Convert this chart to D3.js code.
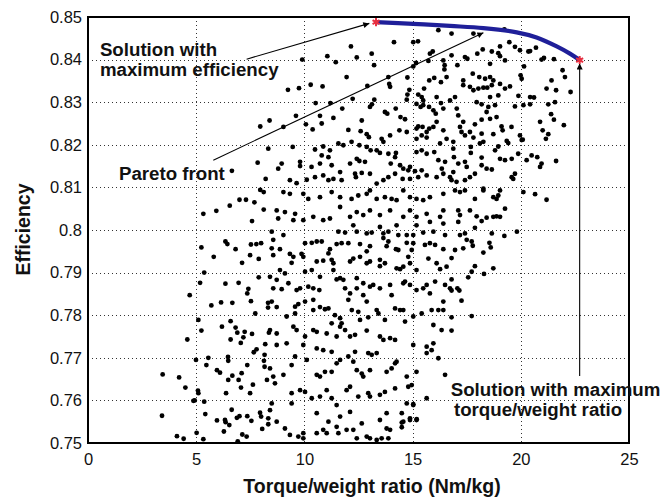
<!DOCTYPE html>
<html>
<head>
<meta charset="utf-8">
<script src="https://cdn.jsdelivr.net/npm/d3@7/dist/d3.min.js"></script>
<style>
  html, body { margin: 0; padding: 0; background: #fff; }
  svg { display: block; }
  text { font-family: "Liberation Sans", Arial, Helvetica, sans-serif; }
</style>
</head>
<body>
<script>
// ---------------- data ----------------
const xTicks = [0, 5, 10, 15, 20, 25];
const xTickLabels = ["0", "5", "10", "15", "20", "25"];
const yTicks = [0.75, 0.76, 0.77, 0.78, 0.79, 0.80, 0.81, 0.82, 0.83, 0.84, 0.85];
const yTickLabels = ["0.75", "0.76", "0.77", "0.78", "0.79", "0.8", "0.81", "0.82", "0.83", "0.84", "0.85"];
const xLabel = "Torque/weight ratio (Nm/kg)";
const yLabel = "Efficiency";

// Pareto front (torque/weight, efficiency)
const paretoFront = [[13.31,.8488],[15.03,.8484],[16.73,.8479],[18.27,.8474],[19.81,.8464],[20.73,.8452],[21.66,.8431],[22.27,.8414],[22.72,.8399]];
const extremeSolutions = [[13.31,.8488],[22.72,.8399]];

// Sampled designs (torque/weight, efficiency)
const samplePoints = [
[7.96,.8243],[8.39,.8257],[8.33,.8191],[7.84,.8158],[6.65,.8139],[8.21,.8120],[7.96,.8094],[8.12,.8089],[7.0,.8071],[7.3,.8071],[7.69,.8065],[6.55,.8057],[5.93,.8045],[5.33,.8038],[8.12,.8048],[7.58,.8021],
[5.24,.7959],[5.81,.7937],[6.35,.7973],[6.44,.7967],[6.82,.7955],[7.12,.7923],[7.53,.7966],[7.78,.7967],[8.0,.7969],[7.49,.7941],[7.89,.7932],[5.37,.7900],[5.18,.7876],[6.35,.7874],[6.96,.7876],[7.89,.7889],[7.41,.7862],[7.36,.7851],[4.70,.7847],[7.53,.7833],[8.32,.7829],[8.32,.7818],[5.70,.7823],[6.15,.7830],[6.67,.7829],[7.73,.7804],[5.10,.7789],[5.24,.7764],[4.59,.7743],[6.19,.7773],[6.59,.7786],[6.82,.7771],[6.90,.7759],[7.24,.7761],[7.18,.7748],[7.58,.7756],[6.59,.7743],[7.06,.7735],[8.19,.7732],[8.36,.7759],[7.79,.7720],[7.66,.7713],[8.16,.7707],[8.13,.7693],[8.16,.7679],[5.56,.7700],[5.47,.7683],[4.99,.7695],[6.47,.7702],[6.48,.7693],[7.36,.7683],[5.96,.7671],[6.10,.7665],[6.67,.7658],[7.10,.7664],[6.48,.7648],[6.96,.7648],[8.27,.7648],[3.45,.7661],[4.21,.7654],[4.50,.7630],[5.08,.7623],[5.10,.7617],[6.38,.7617],[7.07,.7630],[7.62,.7637],[7.49,.7617],[4.87,.7599],[4.93,.7600],[5.37,.7597],[6.64,.7578],[5.42,.7568],[3.42,.7564],[5.96,.7553],[6.36,.7549],[6.33,.7554],[6.53,.7542],[6.88,.7559],[7.0,.7563],[7.36,.7563],[7.55,.7552],[7.95,.7571],[8.0,.7562],[8.33,.7558],[8.33,.7544],[8.05,.7533],[6.28,.7527],[4.11,.7516],[4.42,.7510],[5.02,.7524],[5.33,.7509],[7.13,.7520],[7.33,.7515],[6.92,.7504],
[14.14,.8441],[15.03,.8441],[15.25,.8443],[16.19,.8469],[12.15,.8431],[13.11,.8414],[13.22,.8387],[11.06,.8408],[11.45,.8394],[12.42,.8405],[9.90,.8400],[11.95,.8359],[10.29,.8341],[9.75,.8333],[9.24,.8329],[10.84,.8337],[12.91,.8338],[13.88,.8359],[13.92,.8343],[13.96,.8336],[14.76,.8358],[15.03,.8384],[15.16,.8392],[15.73,.8397],[15.80,.8414],[15.93,.8419],[16.42,.8398],[16.48,.8387],[16.47,.8377],[15.77,.8351],[16.0,.8357],[16.31,.8347],[16.57,.8359],[14.85,.8329],[14.76,.8318],[15.53,.8332],[15.26,.8318],[15.42,.8312],[15.49,.8304],[16.11,.8312],[16.31,.8298],[10.52,.8298],[11.20,.8298],[11.75,.8285],[12.23,.8308],[13.12,.8295],[13.03,.8289],[13.23,.8306],[13.72,.8277],[13.83,.8273],[14.22,.8285],[14.73,.8306],[15.18,.8296],[15.37,.8289],[15.49,.8293],[15.76,.8289],[15.96,.8281],[16.07,.8273],[16.42,.8285],[9.61,.8268],[10.72,.8268],[11.34,.8263],[10.80,.8250],[10.07,.8248],[10.38,.8236],[9.03,.8242],[12.03,.8235],[12.60,.8232],[12.88,.8225],[12.98,.8218],[12.65,.8257],[13.57,.8214],[13.65,.8207],[13.96,.8222],[14.44,.8265],[14.65,.8260],[14.39,.8234],[14.73,.8230],[15.18,.8238],[15.26,.8243],[15.46,.8242],[15.65,.8230],[15.77,.8238],[15.96,.8242],[15.42,.8222],[15.18,.8214],[15.65,.8217],[16.11,.8254],[16.42,.8234],[16.57,.8214],[16.27,.8203],[9.46,.8195],[8.95,.8156],[8.79,.8144],[9.80,.8160],[9.80,.8150],[10.49,.8189],[10.87,.8196],[11.18,.8187],[11.57,.8203],[11.80,.8199],[12.18,.8207],[12.54,.8199],[12.88,.8195],[13.06,.8187],[13.34,.8187],[13.49,.8181],[10.80,.8175],[11.11,.8171],[10.33,.8148],[10.72,.8156],[11.26,.8152],[11.65,.8136],[12.11,.8156],[12.42,.8167],[12.54,.8162],[12.80,.8160],[13.88,.8179],[14.23,.8181],[14.19,.8171],[13.99,.8156],[14.42,.8152],[14.57,.8144],[14.80,.8140],[14.88,.8148],[15.11,.8138],[15.18,.8183],[15.42,.8187],[15.65,.8179],[16.0,.8183],[16.19,.8164],[16.50,.8160],[16.35,.8144],[15.42,.8140],[15.65,.8128],[9.33,.8117],[9.64,.8110],[10.11,.8118],[10.49,.8124],[10.87,.8128],[11.11,.8117],[11.34,.8120],[11.72,.8117],[12.34,.8132],[12.65,.8134],[12.38,.8124],[13.03,.8132],[13.34,.8109],[13.65,.8117],[13.88,.8124],[14.19,.8132],[14.54,.8120],[14.88,.8120],[15.26,.8124],[16.11,.8124],[16.42,.8132],[9.03,.8089],[9.33,.8085],[9.95,.8085],[10.18,.8073],[10.72,.8077],[11.26,.8089],[11.65,.8077],[12.18,.8073],[12.49,.8081],[12.88,.8085],[13.03,.8093],[13.34,.8073],[13.72,.8077],[14.03,.8073],[14.26,.8070],[14.57,.8093],[14.88,.8077],[15.18,.8073],[15.49,.8070],[15.80,.8077],[16.42,.8085],[8.72,.8046],[9.10,.8042],[9.57,.8038],[9.95,.8023],[10.41,.8031],[10.87,.8023],[11.18,.8027],[11.65,.8054],[12.11,.8031],[12.42,.8042],[12.72,.8035],[13.03,.8046],[13.49,.8035],[13.96,.8046],[14.57,.8031],[14.88,.8046],[15.18,.8031],[15.65,.8038],[16.27,.8031],[16.42,.8046],[9.49,.8023],[8.79,.8027],[12.26,.8011],[13.49,.8007],[14.26,.8011],[15.18,.8011],[15.80,.8019],[16.42,.8015],
[19.24,.8471],[17.81,.8461],[16.80,.8461],[19.47,.8441],[19.73,.8430],[19.96,.8422],[20.35,.8419],[20.43,.8420],[20.70,.8428],[19.04,.8431],[18.96,.8415],[18.66,.8419],[18.24,.8424],[17.99,.8414],[17.42,.8406],[17.53,.8402],[17.07,.8387],[16.80,.8410],[18.58,.8390],[19.27,.8398],[19.04,.8408],[20.15,.8384],[20.96,.8400],[21.07,.8404],[21.53,.8401],[21.93,.8375],[22.04,.8359],[17.78,.8367],[18.08,.8359],[18.35,.8355],[18.58,.8359],[18.73,.8351],[17.34,.8351],[17.34,.8340],[17.65,.8336],[17.81,.8328],[18.04,.8332],[18.27,.8334],[18.45,.8334],[18.66,.8340],[19.04,.8343],[19.27,.8332],[19.50,.8337],[20.04,.8355],[19.99,.8363],[21.42,.8351],[21.19,.8332],[21.63,.8328],[22.30,.8324],[20.43,.8312],[20.61,.8311],[19.89,.8315],[18.96,.8316],[18.58,.8312],[16.96,.8312],[16.73,.8304],[17.96,.8300],[18.19,.8295],[18.50,.8289],[18.81,.8293],[19.73,.8290],[20.12,.8293],[20.43,.8295],[21.27,.8295],[21.58,.8300],[21.40,.8272],[21.53,.8259],[17.04,.8285],[17.11,.8269],[18.42,.8277],[18.88,.8265],[18.58,.8261],[17.34,.8254],[17.19,.8242],[17.88,.8248],[18.19,.8259],[19.11,.8243],[19.16,.8234],[19.57,.8242],[19.96,.8222],[18.73,.8225],[20.89,.8254],[21.01,.8234],[21.27,.8225],[21.16,.8214],[21.99,.8246],[17.26,.8230],[17.42,.8222],[17.65,.8230],[17.81,.8217],[18.19,.8226],[18.27,.8207],[18.11,.8203],[19.35,.8209],[19.42,.8204],[20.04,.8211],[20.09,.8212],[16.88,.8207],[16.88,.8191],[17.69,.8195],[17.69,.8181],[18.81,.8187],[18.96,.8196],[16.91,.8171],[17.42,.8160],[17.50,.8148],[18.19,.8170],[18.19,.8152],[18.42,.8144],[18.66,.8142],[19.04,.8167],[19.27,.8164],[19.58,.8167],[19.88,.8179],[20.27,.8164],[20.50,.8175],[20.76,.8171],[20.96,.8156],[20.89,.8148],[21.63,.8162],[17.11,.8156],[16.88,.8136],[16.73,.8124],[16.80,.8117],[17.03,.8113],[17.42,.8117],[17.65,.8124],[17.88,.8132],[16.96,.8093],[17.19,.8089],[17.42,.8093],[17.88,.8073],[18.27,.8097],[18.27,.8093],[18.73,.8077],[18.88,.8073],[18.96,.8081],[19.04,.8093],[19.58,.8124],[19.73,.8132],[19.65,.8120],[20.12,.8089],[20.66,.8084],[21.19,.8071],[19.27,.8050],[17.11,.8046],[17.19,.8035],[17.65,.8046],[17.96,.8032],[18.19,.8021],[18.42,.8029],[18.73,.8031],[18.88,.8032],[19.04,.8031],[17.88,.8005],[17.11,.8019],
[17.19,.7988],[17.42,.7992],[17.50,.7977],[17.73,.7973],[17.78,.7963],[17.34,.7957],[16.96,.7953],[16.80,.7934],[18.66,.7992],[18.55,.7970],[18.61,.7959],[18.27,.7947],[19.24,.7986],[19.82,.7996],[17.88,.7915],[17.73,.7902],[17.57,.7889],[18.30,.7897],[18.73,.7910],[16.80,.7884],[16.80,.7858],[17.07,.7863],[17.16,.7858],[17.26,.7834],[16.73,.7863],[16.80,.7795],[17.73,.7798],[16.80,.7764],
[9.03,.7988],[8.49,.7996],[11.57,.7996],[11.88,.7994],[12.42,.7996],[12.88,.7992],[13.11,.7994],[13.65,.7992],[13.88,.7996],[14.34,.7988],[14.73,.7988],[15.03,.7988],[15.49,.7994],[15.96,.7996],[16.50,.7988],[8.56,.7977],
[10.03,.7969],[10.34,.7970],[10.57,.7973],[10.80,.7973],[11.49,.7967],[11.72,.7969],[12.03,.7969],[11.18,.7955],[11.11,.7945],[12.57,.7967],[12.88,.7950],[13.03,.7962],[13.65,.7981],[13.80,.7962],[13.88,.7973],[14.23,.7955],[14.34,.7953],[14.73,.7970],[15.03,.7969],[14.96,.7953],[15.57,.7965],[15.80,.7969],[16.04,.7965],[16.42,.7955],[9.33,.7944],[9.49,.7937],[9.87,.7944],[9.95,.7937],[8.56,.7941],[8.87,.7955],[8.49,.7957],
[10.87,.7928],[10.57,.7926],[11.26,.7930],[11.34,.7922],[9.41,.7923],[12.11,.7926],[12.26,.7933],[12.57,.7937],[12.88,.7922],[13.03,.7926],[13.49,.7930],[13.49,.7915],[13.72,.7922],[14.26,.7910],[14.42,.7908],[14.57,.7914],[14.80,.7937],[14.88,.7922],[15.18,.7906],[15.73,.7933],[16.11,.7922],[16.27,.7908],[16.57,.7914],[8.87,.7906],[9.10,.7898],[11.34,.7906],[10.03,.7902],[10.34,.7906],
[8.41,.7890],[8.72,.7883],[8.95,.7861],[9.26,.7875],[9.64,.7859],[9.80,.7863],[10.18,.7867],[10.41,.7863],[10.69,.7859],[10.72,.7890],[11.49,.7884],[11.65,.7887],[11.80,.7883],[11.88,.7863],[12.11,.7851],[12.42,.7887],[12.72,.7875],[13.03,.7867],[13.18,.7871],[13.49,.7863],[13.96,.7871],[14.57,.7875],[14.65,.7879],[14.88,.7871],[15.18,.7859],[15.49,.7863],[15.65,.7871],[16.04,.7879],[16.50,.7871],[8.56,.7863],[12.42,.7863],[12.72,.7847],[14.03,.7847],[15.80,.7851],
[8.49,.7832],[8.72,.7819],[9.18,.7797],[9.57,.7804],[9.72,.7826],[10.03,.7832],[10.41,.7836],[10.72,.7819],[10.95,.7814],[11.11,.7816],[11.41,.7800],[11.65,.7793],[11.72,.7781],[12.03,.7836],[12.19,.7812],[12.49,.7808],[12.88,.7832],[12.95,.7795],[13.34,.7812],[13.42,.7804],[13.72,.7789],[14.19,.7816],[14.42,.7812],[14.57,.7812],[14.65,.7785],[15.03,.7797],[15.42,.7804],[15.88,.7812],[15.96,.7777],[16.19,.7812],[16.42,.7812],[16.42,.7832],[10.41,.7812],[9.57,.7820],[12.57,.7789],
[8.41,.7765],[8.72,.7757],[9.49,.7773],[9.64,.7765],[10.03,.7750],[10.41,.7765],[10.57,.7761],[11.03,.7757],[11.49,.7750],[11.88,.7765],[12.11,.7750],[12.34,.7754],[12.88,.7764],[13.49,.7750],[13.65,.7742],[13.96,.7746],[14.19,.7742],[11.65,.7773],[11.26,.7781],[15.03,.7730],[15.65,.7726],[15.96,.7734],[16.34,.7765],[8.72,.7730],[10.57,.7722],[10.87,.7718],[11.26,.7714],[12.34,.7714],[12.95,.7711],[13.34,.7711],[9.95,.7730],[9.18,.7734],
[8.41,.7675],[8.56,.7656],[8.64,.7640],[9.03,.7660],[9.41,.7683],[9.57,.7703],[10.11,.7695],[10.57,.7660],[10.72,.7656],[10.95,.7667],[11.26,.7667],[11.49,.7687],[11.65,.7695],[12.03,.7703],[12.26,.7691],[12.42,.7671],[12.65,.7663],[12.72,.7656],[13.03,.7671],[13.11,.7707],[13.80,.7667],[14.03,.7675],[14.19,.7687],[14.26,.7691],[14.73,.7656],[15.18,.7667],[15.65,.7711],[15.88,.7718],[16.19,.7699],[16.50,.7660],
[9.41,.7617],[9.80,.7624],[10.03,.7620],[10.34,.7605],[10.72,.7609],[11.03,.7624],[11.26,.7605],[11.49,.7589],[11.95,.7624],[12.11,.7632],[12.49,.7609],[12.95,.7617],[13.03,.7609],[13.49,.7613],[13.72,.7620],[14.19,.7628],[14.80,.7632],[14.96,.7636],[15.65,.7605],[14.73,.7593],[15.03,.7589],[8.49,.7593],[9.41,.7593],
[8.41,.7577],[8.72,.7550],[9.10,.7534],[9.33,.7519],[9.72,.7515],[9.95,.7523],[10.57,.7570],[10.87,.7531],[11.11,.7550],[11.49,.7538],[11.65,.7562],[12.11,.7573],[12.26,.7531],[12.65,.7546],[12.88,.7515],[13.03,.7511],[13.49,.7554],[13.80,.7570],[13.96,.7531],[14.50,.7570],[14.57,.7550],[14.88,.7554],[15.18,.7554],[9.95,.7511],[10.57,.7523],[11.03,.7523],[11.57,.7523],[11.95,.7531],[12.42,.7511],[13.34,.7507],[13.88,.7511],
[15.03,.7591],[14.88,.7558],[15.19,.7556],[14.50,.7548],[14.50,.7537],[13.80,.7534],[13.57,.7511]
];

// ---------------- layout ----------------
const W = 665, H = 499;
const plot = { left: 88, right: 629, top: 17, bottom: 443 };

const x = d3.scaleLinear().domain([0, 25]).range([plot.left, plot.right]);
const y = d3.scaleLinear().domain([0.75, 0.85]).range([plot.bottom, plot.top]);

const svg = d3.select("body").append("svg").attr("width", W).attr("height", H);

const defs = svg.append("defs");
defs.append("marker")
  .attr("id", "arrow")
  .attr("viewBox", "0 0 10 10")
  .attr("refX", 10).attr("refY", 5)
  .attr("markerWidth", 9).attr("markerHeight", 6)
  .attr("markerUnits", "userSpaceOnUse")
  .attr("orient", "auto")
  .append("path").attr("d", "M0,0 L10,5 L0,10 Z").attr("fill", "#000");

// gridlines
const grid = svg.append("g").attr("stroke", "#333").attr("stroke-width", 1).attr("stroke-dasharray", "1,3");
grid.selectAll("line.vx").data(xTicks.slice(1, -1)).join("line")
  .attr("x1", d => Math.round(x(d)) + 0.5).attr("x2", d => Math.round(x(d)) + 0.5)
  .attr("y1", plot.top).attr("y2", plot.bottom);
grid.selectAll("line.hy").data(yTicks.slice(1, -1)).join("line")
  .attr("y1", d => Math.round(y(d)) + 0.5).attr("y2", d => Math.round(y(d)) + 0.5)
  .attr("x1", plot.left).attr("x2", plot.right);

// axes (labels only)
const gx = svg.append("g")
  .attr("transform", `translate(0,${plot.bottom})`)
  .call(d3.axisBottom(x).tickValues(xTicks).tickSize(0).tickPadding(10)
    .tickFormat((d, i) => xTickLabels[i]));
const gy = svg.append("g")
  .attr("transform", `translate(${plot.left},0)`)
  .call(d3.axisLeft(y).tickValues(yTicks).tickSize(0).tickPadding(6)
    .tickFormat((d, i) => yTickLabels[i]));
[gx, gy].forEach(g => {
  g.select(".domain").remove();
  g.selectAll("text").attr("font-size", "16.5px").attr("fill", "#111")
    .attr("font-family", "'Liberation Sans', Arial, sans-serif");
});

// scatter
svg.append("g").selectAll("circle").data(samplePoints).join("circle")
  .attr("cx", d => x(d[0])).attr("cy", d => y(d[1]))
  .attr("r", 2.4).attr("fill", "#000");

// annotation arrows (data coords)
const arrows = [
  { from: [7.33, 0.8401], to: [13.0, 0.8485] },
  { from: [5.79, 0.8164], to: [18.27, 0.8463] },
  { from: [22.72, 0.7657], to: [22.72, 0.8391] }
];
svg.append("g").selectAll("line").data(arrows).join("line")
  .attr("x1", d => x(d.from[0])).attr("y1", d => y(d.from[1]))
  .attr("x2", d => x(d.to[0])).attr("y2", d => y(d.to[1]))
  .attr("stroke", "#000").attr("stroke-width", 1.1)
  .attr("marker-end", "url(#arrow)");

// pareto front
svg.append("path")
  .datum(paretoFront)
  .attr("d", d3.line().x(d => x(d[0])).y(d => y(d[1])).curve(d3.curveCatmullRom.alpha(0.5)))
  .attr("fill", "none").attr("stroke", "#1f1f99").attr("stroke-width", 4.2)
  .attr("stroke-linecap", "round");

svg.append("g").selectAll("path").data(extremeSolutions).join("path")
  .attr("transform", d => `translate(${x(d[0])},${y(d[1])})`)
  .attr("d", d3.symbol().type(d3.symbolAsterisk).size(45))
  .attr("fill", "none").attr("stroke", "#e83040").attr("stroke-width", 2);

// frame
svg.append("rect")
  .attr("x", plot.left).attr("y", plot.top)
  .attr("width", plot.right - plot.left).attr("height", plot.bottom - plot.top)
  .attr("fill", "none").attr("stroke", "#000").attr("stroke-width", 2);

// annotation texts (data coords)
const notes = [
  { t: "Solution with", x: 0.55, y: 0.84096 },
  { t: "maximum efficiency", x: 0.55, y: 0.83615 },
  { t: "Pareto front", x: 1.43, y: 0.81174 },
  { t: "Solution with maximum", x: 16.76, y: 0.76103 },
  { t: "torque/weight ratio", x: 16.91, y: 0.75645 }
];
svg.append("g").selectAll("text").data(notes).join("text")
  .attr("x", d => x(d.x)).attr("y", d => y(d.y))
  .attr("font-size", "18.7px").attr("font-weight", "bold").attr("fill", "#111")
  .text(d => d.t);

// axis titles
svg.append("text")
  .attr("x", 372).attr("y", 492.5)
  .attr("text-anchor", "middle").attr("font-size", "19.5px").attr("font-weight", "bold").attr("fill", "#111")
  .text(xLabel);
svg.append("text")
  .attr("transform", "translate(30,229.5) rotate(-90)")
  .attr("text-anchor", "middle").attr("font-size", "19.5px").attr("font-weight", "bold").attr("fill", "#111")
  .text(yLabel);
</script>
</body>
</html>
